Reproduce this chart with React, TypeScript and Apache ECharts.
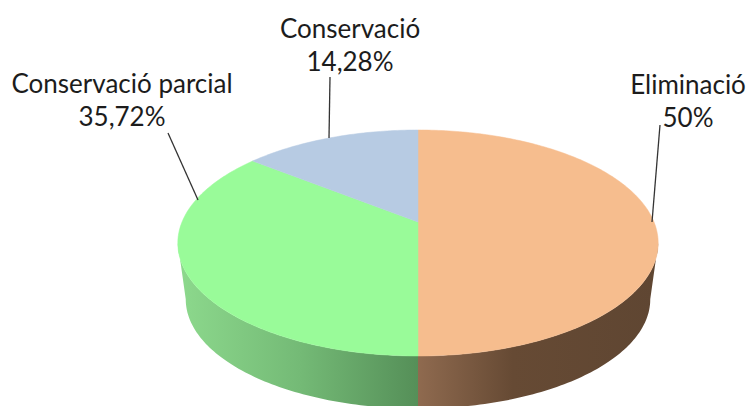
import React, { useEffect, useRef } from "react";
import * as echarts from "echarts";

const categories = ["Eliminació", "Conservació parcial", "Conservació"];
const shares = [50, 35.72, 14.28];
const topColors = ["#f6bd8e", "#99fb99", "#b7cbe3"];

// Perspective model of the disc
const CX = 418;
const TOP_APEX_Y = 222;
const BOTTOM_APEX_Y = 279;
const R = 236;
const B = 109.1;
const K = 0.1858;
const BOTTOM_SCALE = 0.967;

const project = (deg: number, bottom: boolean) => {
  const t = (deg * Math.PI) / 180;
  const w = 1 + K * Math.cos(t);
  const s = bottom ? BOTTOM_SCALE : 1;
  return [
    CX + (s * R * Math.sin(t)) / w,
    (bottom ? BOTTOM_APEX_Y : TOP_APEX_Y) - (s * B * Math.cos(t)) / w,
  ];
};

const arc = (a: number, b: number, bottom: boolean) => {
  const n = Math.max(2, Math.ceil(Math.abs(b - a)));
  const pts: number[][] = [];
  for (let i = 0; i <= n; i++) pts.push(project(a + ((b - a) * i) / n, bottom));
  return pts;
};

const SILHOUETTE = (Math.acos(-K) * 180) / Math.PI;

const sideFills = [
  new echarts.graphic.LinearGradient(
    418, 0, 655, 0,
    [
      { offset: 0, color: "#8f6a4f" },
      { offset: 0.4, color: "#664a34" },
      { offset: 1, color: "#5f4632" },
    ],
    true
  ),
  new echarts.graphic.LinearGradient(
    182, 0, 418, 0,
    [
      { offset: 0, color: "#8cd88c" },
      { offset: 0.5, color: "#74ba76" },
      { offset: 1, color: "#558f58" },
    ],
    true
  ),
];

const labelAnchors = [
  { x: 688, y: 100, line: [[660, 125], [652, 222]] },
  { x: 122, y: 99, line: [[168, 133], [198, 200]] },
  { x: 350, y: 44, line: [[330, 77], [329, 138]] },
];

const total = shares.reduce((a, b) => a + b, 0);

const renderItem = (params: any, api: any) => {
  const i = params.dataIndex;
  let start = 0;
  for (let j = 0; j < i; j++) start += (shares[j] / total) * 360;
  const end = start + (api.value(0) / total) * 360;
  const children: any[] = [];

  // visible part of the rim: from the right silhouette through the front to the left one
  const sideA = Math.max(start, SILHOUETTE);
  const sideB = Math.min(end, 360 - SILHOUETTE);
  if (sideB > sideA) {
    children.push({
      type: "polygon",
      shape: { points: [...arc(sideA, sideB, false), ...arc(sideB, sideA, true)] },
      style: { fill: sideFills[i] },
    });
  }

  children.push({
    type: "polygon",
    shape: { points: [[CX, TOP_APEX_Y], ...arc(start, end, false)] },
    style: { fill: topColors[i], stroke: topColors[i], lineWidth: 0.5 },
  });

  const a = labelAnchors[i];
  children.push({
    type: "line",
    shape: { x1: a.line[0][0], y1: a.line[0][1], x2: a.line[1][0], y2: a.line[1][1] },
    style: { stroke: "#333333", lineWidth: 1.3 },
  });
  children.push({
    type: "text",
    x: a.x,
    y: a.y,
    style: {
      text: `${categories[i]}\n${String(shares[i]).replace(".", ",")}%`,
      x: 0,
      y: 0,
      align: "center",
      verticalAlign: "middle",
      fontFamily: "Lato",
      fontSize: 26,
      lineHeight: 33,
      fill: "#1c1c1c",
    },
  });
  return { type: "group", children };
};

export default function App() {
  const ref = useRef<HTMLDivElement>(null);
  useEffect(() => {
    document.body.style.margin = "0";
    const chart = echarts.init(ref.current!, null, { renderer: "svg" });
    chart.setOption({
      animation: false,
      backgroundColor: "#ffffff",
      series: [
        {
          type: "custom",
          coordinateSystem: "none",
          renderItem,
          data: shares.map((v, i) => ({ name: categories[i], value: [v] })),
          silent: true,
        },
      ],
    });
    return () => chart.dispose();
  }, []);
  return <div ref={ref} style={{ width: 750, height: 406, overflow: "hidden" }} />;
}
